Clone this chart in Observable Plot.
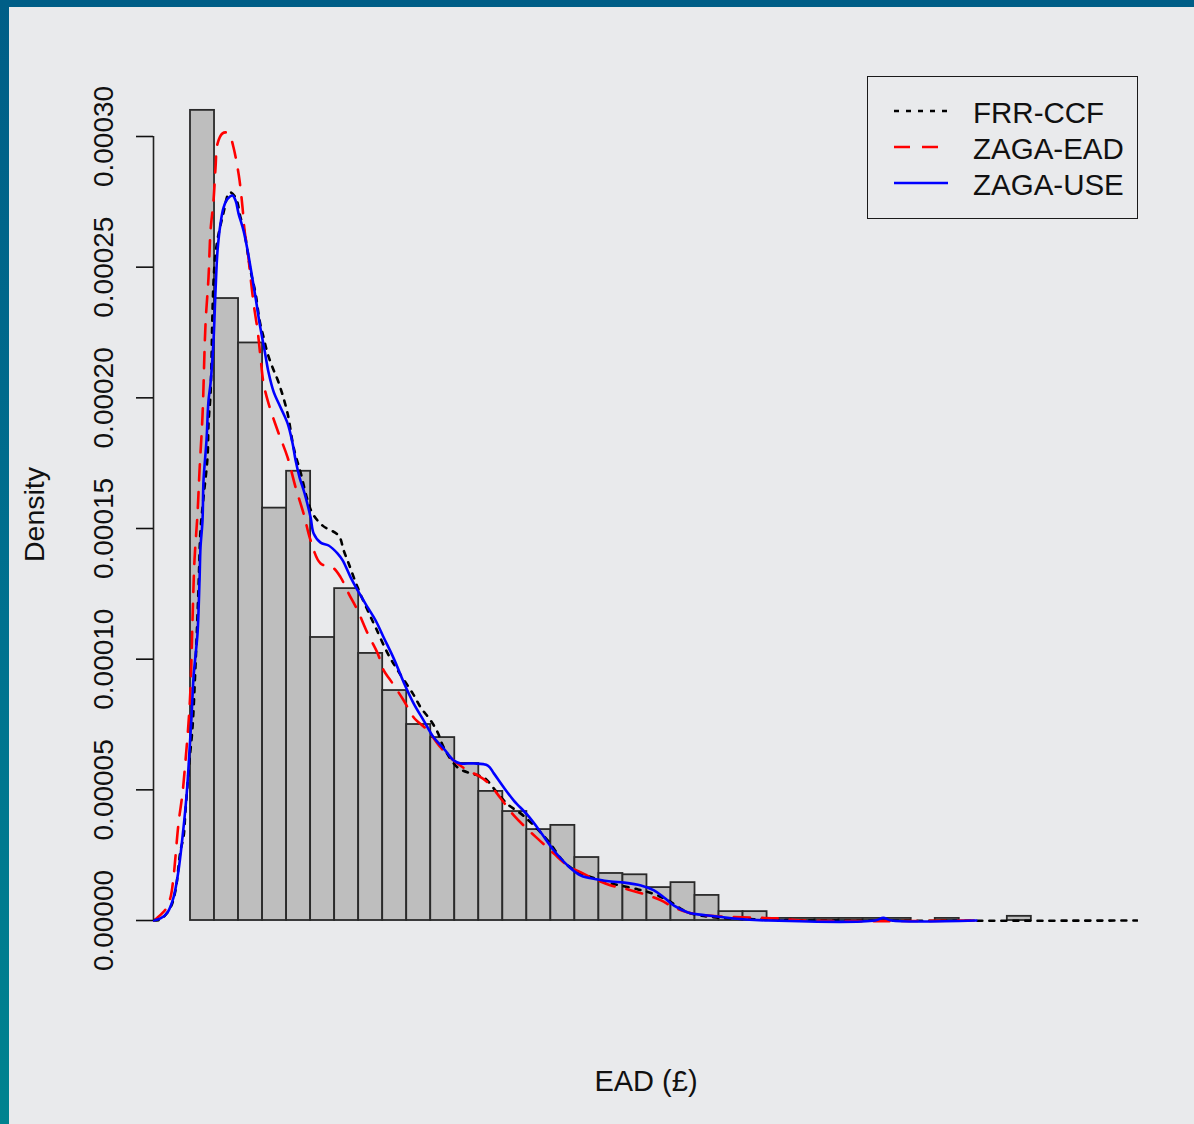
<!DOCTYPE html>
<html>
<head>
<meta charset="utf-8">
<script src="https://cdn.jsdelivr.net/npm/d3@7"></script>
<script src="https://cdn.jsdelivr.net/npm/@observablehq/plot@0.6"></script>
<style>
  html, body { margin: 0; padding: 0; }
  body { width: 1194px; height: 1124px; position: relative; overflow: hidden;
         background: linear-gradient(180deg, #005e87 0%, #00718f 55%, #00838f 100%);
         font-family: "Liberation Sans", Arial, sans-serif; }
  #panel { position: absolute; left: 9px; top: 7px; right: 0; bottom: 0; background: #e9eaec; }
  #chart { position: absolute; left: 0; top: 0; }
  #legend { position: absolute; left: 867px; top: 76px; width: 271px; height: 143px;
            box-sizing: border-box; border: 1.5px solid #1a1a1a; }
  .row { position: absolute; left: 0; height: 36px; width: 100%; }
  .row svg { position: absolute; left: 25px; top: 0; }
  .row span { position: absolute; left: 105px; top: 0; line-height: 36px; font-size: 29.5px; color: #111; white-space: nowrap; }
</style>
</head>
<body>
<div id="panel"></div>
<div id="chart"></div>
<div id="legend"></div>
<script>
// ---- Histogram (bin width 500 £) ----
const binStart = [0, 500, 1000, 1500, 2000, 2500, 3000, 3500, 4000, 4500, 5000, 5500,
  6000, 6500, 7000, 7500, 8000, 8500, 9000, 9500, 10000, 10500, 11000, 11500,
  12000, 12500, 13000, 13500, 14000, 14500, 15000, 15500, 16000, 16500, 17000];
const binEnd = [500, 1000, 1500, 2000, 2500, 3000, 3500, 4000, 4500, 5000, 5500, 6000,
  6500, 7000, 7500, 8000, 8500, 9000, 9500, 10000, 10500, 11000, 11500, 12000,
  12500, 13000, 13500, 14000, 14500, 15000, 15500, 16000, 16500, 17000, 17500];
const binDensity = [0.000310, 0.000238, 0.000221, 0.0001578, 0.0001719, 0.0001083, 0.000127, 0.0001022,
  0.000088, 0.000075, 0.000070, 0.0000601, 0.0000494, 0.0000417, 0.0000348, 0.0000364,
  0.0000241, 0.000018, 0.0000175, 0.0000126, 0.0000145, 0.0000096, 0.0000034, 0.0000034,
  0.0000008, 0.0000008, 0.0000008, 0.0000008, 0.0000008, 0.0000008, 0, 0.0000008, 0, 0, 0.0000016];

// ---- Density curves (density values given in units of 1e-6) ----
const frrEAD = [-770,-625,-417,-313,-208,-146,-104,-21,42,104,167,208,271,354,375,417,521,688,813,938,
  1042,1104,1250,1354,1438,1521,1604,1708,1833,2021,2125,2188,2292,2438,2542,2750,3083,3188,3292,3479,
  3688,3854,4104,4313,4625,4792,5000,5146,5271,5563,5833,6104,6396,6604,6875,7083,7438,7854,8542,9313,
  9625,9938,10354,10979,12021,13000,19700];
const frrDens = [0,0.4,5.0,11.5,26.8,31.8,42.1,61.2,73.9,97.6,127.4,149.2,161.9,177.2,190.2,201.7,255.2,270.9,278.6,276.7,
  269.0,265.2,248.7,239.9,229.6,223.1,217.0,211.6,205.9,194.0,182.9,177.9,171.4,160.7,155.7,151.1,147.3,141.6,136.6,127.4,
  118.6,112.1,102.2,95.7,86.9,81.5,76.5,71.9,66.2,58.5,56.3,54.7,48.6,44.4,40.9,37.5,30.6,21.0,15.3,11.9,
  10.3,7.7,3.1,1.1,0.4,0,0];

const eadEAD = [-770,-688,-521,-417,-354,-250,-167,-104,-42,0,42,83,146,188,250,313,375,417,479,521,
  563,667,750,833,896,979,1021,1083,1125,1188,1250,1313,1396,1458,1521,1625,1813,2021,2188,2354,
  2500,2708,2958,3125,3292,3479,3688,3896,4021,4167,4438,4646,4938,5208,5479,5771,5979,6188,6458,6729,
  7021,7292,7563,7854,8125,8479,8750,9104,9521,9792,10063,10354,10771,11729,12229,12708,16354];
const eadDens = [0,1.1,4.2,8.8,16.5,37.1,48.6,61.2,75.4,88.8,114.8,137.8,155.7,172.2,193.2,228.4,246.1,264.0,275.5,288.1,
  297.3,301.2,301.5,299.6,295.8,288.1,283.2,272.8,264.0,256.4,246.1,236.1,225.8,215.4,205.5,197.8,187.5,177.2,165.7,155.7,
  145.4,136.6,135.1,131.3,125.1,118.6,109.8,102.2,95.7,91.8,84.2,77.7,72.7,66.2,61.2,57.4,55.5,52.8,46.7,40.2,
  34.8,30.2,25.6,21.0,18.4,15.3,13.4,11.9,9.6,7.7,5.0,3.1,1.9,1.1,0.8,0,0];

const useEAD = [-770,-625,-479,-354,-250,-167,-104,-63,-21,21,63,104,146,188,208,250,271,333,375,417,
  479,521,563,625,688,771,875,938,1000,1104,1188,1271,1354,1438,1542,1625,1729,1875,2021,2125,
  2188,2271,2375,2500,2563,2708,2875,3063,3167,3333,3479,3688,3854,4021,4229,4438,4646,4854,5063,5271,
  5479,5625,5896,6188,6313,6521,6729,7021,7292,7563,7854,8125,8479,8750,9021,9375,9646,9854,10063,10354,
  10771,11313,12021,14250,14417,14583,16354];
const useDens = [0,0.8,3.1,8.8,19.1,31.8,43.2,52.4,65.0,77.7,93.0,101.4,109.8,130.1,142.7,153.1,168.4,183.7,199.0,205.5,
  221.9,241.1,256.4,266.7,272.8,276.1,277.4,275.5,270.5,264.0,256.4,247.6,238.4,228.5,218.1,209.7,202.4,196.3,190.2,182.5,
  176.0,169.5,163.4,154.2,148.1,144.6,143.5,140.4,137.8,131.3,126.3,119.8,114.8,108.3,100.3,91.1,83.0,76.5,70.0,65.8,
  61.2,60.1,60.1,59.3,56.3,50.9,45.9,40.2,33.7,26.8,21.0,17.2,15.7,14.9,14.5,13.4,11.5,8.8,5.7,3.1,
  1.9,0.8,0,0,1.0,0,0];

// ---- Series / legend ----
const seriesNames = ["FRR-CCF", "ZAGA-EAD", "ZAGA-USE"];
const seriesColors = ["#000000", "#ff0000", "#0000ff"];
const seriesDash = ["5,7", "16,12", null];

// ---- Axes ----
const yTicks = [0, 0.00005, 0.0001, 0.00015, 0.0002, 0.00025, 0.0003];
const xDomain = [-770, 19730];
const yDomain = [-0.00001224, 0.00032296];
const yLabel = "Density";
const xLabel = "EAD (£)";

// build tables
const bins = binStart.map((s, i) => ({x1: s, x2: binEnd[i], y: binDensity[i]}));
const toRows = (xs, ds, name) => xs.map((x, i) => ({x, y: ds[i] * 1e-6, name}));
const curves = [
  toRows(frrEAD, frrDens, seriesNames[0]),
  toRows(eadEAD, eadDens, seriesNames[1]),
  toRows(useEAD, useDens, seriesNames[2])
];

const chart = Plot.plot({
  width: 1194,
  height: 1124,
  marginLeft: 153,
  marginRight: 56,
  marginTop: 76,
  marginBottom: 172,
  style: {background: "transparent", fontFamily: "'Liberation Sans', Arial, sans-serif", fontSize: "28px", color: "#111", overflow: "visible"},
  x: {domain: xDomain, axis: null},
  y: {domain: yDomain},
  marks: [
    Plot.rectY(bins, {x1: "x1", x2: "x2", y: "y", fill: "#bebebe", stroke: "#2a2a2a", strokeWidth: 1.8}),
    ...curves.map((c, i) => Plot.line(c, {
      x: "x", y: "y", stroke: seriesColors[i], strokeWidth: 2.6,
      strokeDasharray: seriesDash[i] ?? undefined, curve: "catmull-rom", clip: true
    })),
    Plot.ruleX([xDomain[0]], {y1: yTicks[0], y2: yTicks[yTicks.length - 1], stroke: "#222", strokeWidth: 1.6}),
    Plot.axisY({ticks: yTicks, tickFormat: d3.format(".5f"), tickSize: 17, tickPadding: 24,
      tickRotate: -90, label: null, strokeWidth: 1.6, fontSize: 28}),
    Plot.text([yLabel], {frameAnchor: "left", text: d => d, rotate: -90, textAnchor: "middle",
      lineAnchor: "middle", dx: -119, fontSize: 28.5, fill: "#111"}),
    Plot.text([xLabel], {frameAnchor: "bottom", text: d => d, textAnchor: "middle",
      lineAnchor: "bottom", dy: 138, fontSize: 29, fill: "#111"})
  ]
});
document.getElementById("chart").appendChild(chart);

// legend
const legend = document.getElementById("legend");
const rowCenters = [36, 72, 107.5];
seriesNames.forEach((name, i) => {
  const row = document.createElement("div");
  row.className = "row";
  row.style.top = (rowCenters[i] - 18) + "px";
  const dash = seriesDash[i] ? `stroke-dasharray="${seriesDash[i]}"` : "";
  row.innerHTML = `<svg width="56" height="36"><line x1="1" y1="16" x2="55" y2="16" stroke="${seriesColors[i]}" stroke-width="2.6" ${dash}/></svg><span>${name}</span>`;
  legend.appendChild(row);
});
</script>
</body>
</html>
